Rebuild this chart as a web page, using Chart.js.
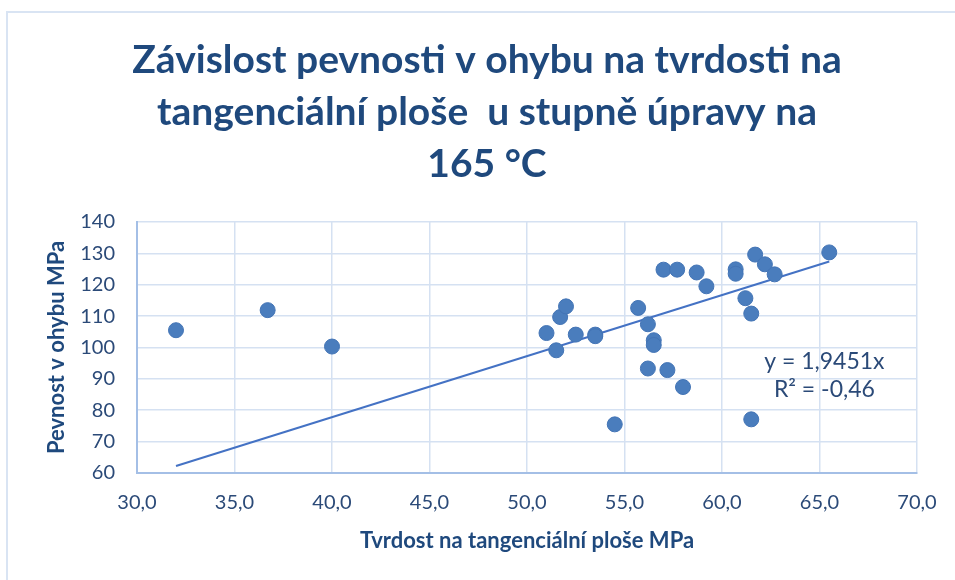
<!DOCTYPE html>
<html>
<head>
<meta charset="utf-8">
<script src="https://cdn.jsdelivr.net/npm/chart.js@4/dist/chart.umd.min.js"></script>
<style>
  html, body { margin: 0; padding: 0; background: #ffffff; overflow: hidden; }
  #wrap { position: relative; width: 955px; height: 580px; }
  #frame { position: absolute; left: 6px; top: 11px; width: 1000px; height: 1000px;
           border: 2px solid #d9e4f3; box-sizing: border-box; }
  canvas { position: absolute; left: 0; top: 0; }
</style>
</head>
<body>
<div id="wrap">
  <div id="frame"></div>
  <canvas id="c" width="955" height="580"></canvas>
</div>
<script>
// ---- data ----
const hardness = [32.0, 36.7, 40.0, 51.0, 51.5, 51.7, 52.0, 52.5, 53.5, 53.5, 54.5, 55.7, 56.2, 56.5, 56.5, 56.2,
                  57.0, 57.2, 57.7, 58.0, 58.7, 59.2, 60.7, 60.7, 61.2, 61.5, 61.5, 61.7, 62.2, 62.7, 65.5];
const strength = [105.5, 111.9, 100.3, 104.6, 99.1, 109.7, 113.1, 104.1, 104.1, 103.6, 75.5, 112.6, 107.4, 102.3, 100.8, 93.3,
                  124.8, 92.8, 124.8, 87.4, 123.9, 119.5, 124.9, 123.5, 115.7, 110.8, 77.1, 129.6, 126.5, 123.3, 130.3];
const trendSlope = 1.9451;
const trendLabels = ['y = 1,9451x', 'R² = -0,46'];
const trendLabelAnchor = [65.25, 95.6, 86.7]; // x value, y value line 1, y value line 2
const titleLines = ['Závislost pevnosti v ohybu na tvrdosti na', 'tangenciální ploše  u stupně úpravy na', '165 °C'];
const xTitle = 'Tvrdost na tangenciální ploše MPa';
const yTitle = 'Pevnost v ohybu MPa';
const xRange = [30, 70, 5];
const yRange = [60, 140, 10];

const points = hardness.map((x, i) => ({ x: x, y: strength[i] }));
const xMin = Math.min(...hardness), xMax = Math.max(...hardness);
const trend = [{ x: xMin, y: trendSlope * xMin }, { x: xMax, y: trendSlope * xMax }];

const TXT = '#1f497d';
const FONT = 'Lato, "Open Sans", sans-serif';

const labelPlugin = {
  id: 'trendLabel',
  afterDatasetsDraw(chart) {
    const { ctx, scales } = chart;
    const px = scales.x.getPixelForValue(trendLabelAnchor[0]);
    ctx.save();
    ctx.font = '23px ' + FONT;
    ctx.fillStyle = '#2b4a78';
    ctx.textAlign = 'center';
    ctx.textBaseline = 'middle';
    ctx.fillText(trendLabels[0], px, scales.y.getPixelForValue(trendLabelAnchor[1]));
    ctx.fillText(trendLabels[1], px, scales.y.getPixelForValue(trendLabelAnchor[2]));
    ctx.restore();
  }
};

new Chart(document.getElementById('c'), {
  data: {
    datasets: [
      {
        type: 'scatter',
        data: points,
        pointRadius: 7.5,
        pointHoverRadius: 7.5,
        backgroundColor: '#4a7dbd',
        borderColor: '#4374b5',
        borderWidth: 1,
        order: 1
      },
      {
        type: 'line',
        data: trend,
        borderColor: '#4472c4',
        borderWidth: 2,
        pointRadius: 0,
        fill: false,
        order: 2
      }
    ]
  },
  options: {
    responsive: false,
    animation: false,
    devicePixelRatio: 1,
    layout: { padding: { top: 10, right: 38, bottom: 0, left: 57 } },
    plugins: {
      legend: { display: false },
      tooltip: { enabled: false },
      title: {
        display: true,
        text: titleLines,
        color: TXT,
        font: { family: FONT, size: 39, weight: 'bold', lineHeight: 1.333 },
        padding: { top: 24, bottom: 32 }
      }
    },
    scales: {
      x: {
        type: 'linear',
        min: xRange[0], max: xRange[1],
        ticks: {
          stepSize: xRange[2],
          color: '#2b4a78',
          font: { family: FONT, size: 20 },
          padding: 18,
          callback: v => v.toFixed(1).replace('.', ',')
        },
        grid: { color: '#d5e1f2', lineWidth: 1.5, drawTicks: false },
        border: { color: '#a4bfe6', width: 2 },
        title: {
          display: true, text: xTitle, color: TXT,
          font: { family: FONT, size: 22, weight: 'bold', lineHeight: 1.2 },
          padding: { top: 0, bottom: 26 }
        },
        afterFit: s => { s.height = 107; }
      },
      y: {
        type: 'linear',
        min: yRange[0], max: yRange[1],
        ticks: {
          stepSize: yRange[2],
          color: '#2b4a78',
          font: { family: FONT, size: 20 },
          padding: 22
        },
        grid: { color: '#d5e1f2', lineWidth: 1.5, drawTicks: false },
        border: { color: '#a4bfe6', width: 2 },
        title: {
          display: true, text: yTitle, color: TXT,
          font: { family: FONT, size: 22, weight: 'bold', lineHeight: 1.2 },
          padding: { top: -13, bottom: 0 }
        },
        afterFit: s => { s.width = 80; }
      }
    }
  },
  plugins: [labelPlugin]
});
</script>
</body>
</html>
